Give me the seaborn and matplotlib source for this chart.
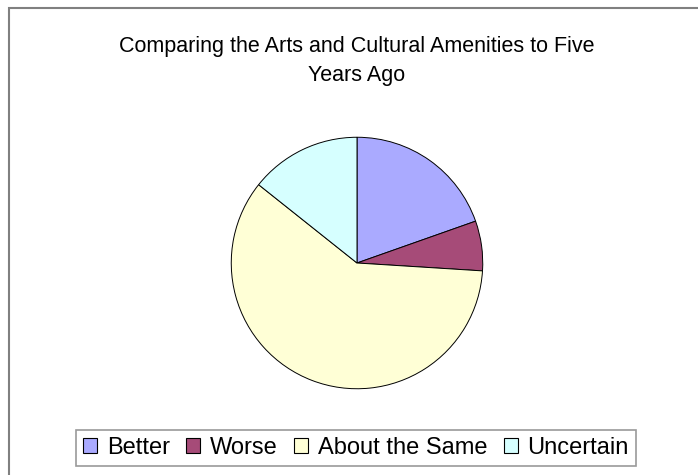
import matplotlib
matplotlib.use("Agg")
import matplotlib.pyplot as plt
import matplotlib.patches as mpatches
import seaborn as sns

# Data (percent of responses)
categories = ["Better", "Worse", "About the Same", "Uncertain"]
shares = [19.6, 6.4, 59.7, 14.3]
colors = ["#AAAAFF", "#A64B78", "#FFFFD6", "#D6FFFF"]
title = "Comparing the Arts and Cultural Amenities to Five\nYears Ago"

sns.set_style("white")
plt.rcParams["font.family"] = ["Liberation Sans", "DejaVu Sans"]
plt.rcParams["text.color"] = "black"

fig = plt.figure(figsize=(6.98, 4.75), dpi=100)

# outer chart-area border (runs off the right and bottom edges)
fig.patches.append(mpatches.Rectangle((9 / 698, -0.05), 1.0, 1 - 8 / 475 + 0.05,
                                      transform=fig.transFigure, fill=False,
                                      edgecolor="#808080", linewidth=1.5))

# square axes around the pie: centre (357, 263), radius 127 px
ax = fig.add_axes([(357 - 127) / 698, (475 - 390) / 475, 254 / 698, 254 / 475])
ax.pie(shares, colors=sns.color_palette(colors), startangle=90, counterclock=False,
       wedgeprops={"edgecolor": "black", "linewidth": 0.7})
ax.set_xlim(-1.01, 1.01)
ax.set_ylim(-1.01, 1.01)
ax.set_aspect("equal")
ax.axis("off")

fig.text(357 / 698, 1 - 61 / 475, title, ha="center", va="center",
         fontsize=15.5, linespacing=1.55, color="black")

handles = [mpatches.Patch(facecolor=c, edgecolor="black", linewidth=0.8, label=l)
           for c, l in zip(colors, categories)]
leg = fig.legend(handles=handles, loc="center", bbox_to_anchor=(356 / 698, 1 - 448 / 475),
                 ncol=4, fontsize=17, frameon=True, fancybox=False,
                 handlelength=0.6, handleheight=0.6, handletextpad=0.4,
                 columnspacing=0.7, borderpad=0.3)
leg.get_frame().set_edgecolor("#808080")
leg.get_frame().set_linewidth(1.2)
for t in leg.get_texts():
    t.set_color("black")

fig.savefig("out.png", dpi=100)
